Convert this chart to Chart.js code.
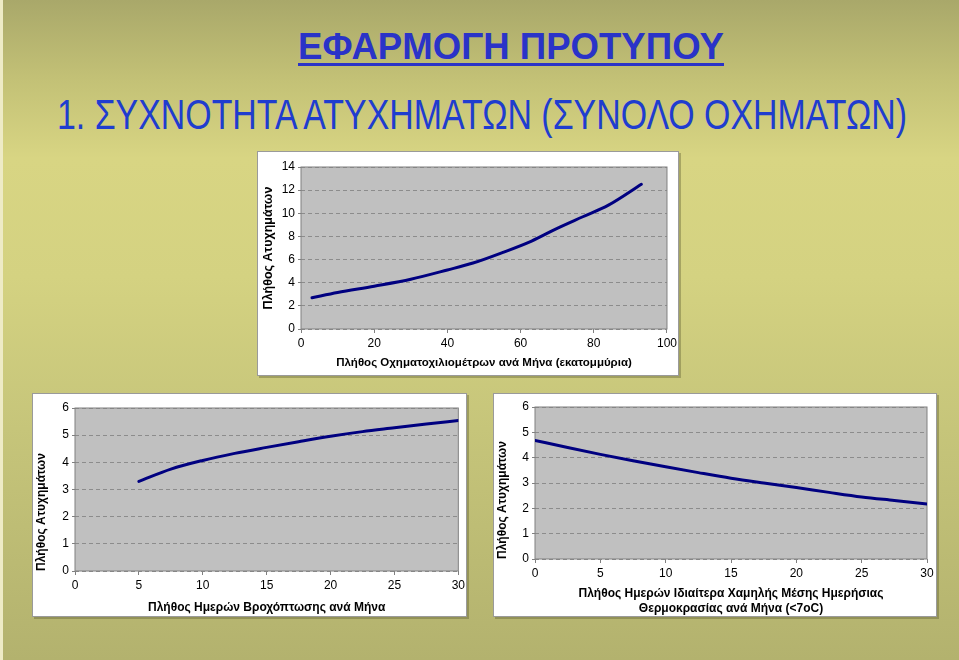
<!DOCTYPE html>
<html lang="el">
<head>
<meta charset="utf-8">
<title>Εφαρμογή Προτύπου</title>
<script src="https://cdn.jsdelivr.net/npm/chart.js@4.4.0/dist/chart.umd.min.js"></script>
<style>
  html, body {
    margin: 0;
    padding: 0;
  }
  body {
    width: 959px;
    height: 660px;
    overflow: hidden;
    position: relative;
    font-family: Arial, "Liberation Sans", sans-serif;
    background: linear-gradient(to bottom, #a9a86a 0%, #c3c176 12%, #d8d583 24%, #d4d281 42%, #c6c57a 65%, #b3b26e 100%);
  }
  .left-strip {
    position: absolute;
    left: 0;
    top: 0;
    width: 3px;
    height: 660px;
    background: #eeebc6;
  }
  .slide-title {
    position: absolute;
    white-space: nowrap;
    transform-origin: left top;
  }
  #mainTitle {
    left: 298px;
    top: 26px;
    font-size: 37px;
    font-weight: bold;
    color: #2a33c8;
    text-decoration: underline;
    text-decoration-thickness: 3px;
    text-underline-offset: 4px;
  }
  #subTitle {
    left: 57px;
    top: 91px;
    font-size: 42px;
    color: #1f3dcf;
  }
  .chart-box {
    position: absolute;
    background: #fff;
    border: 1px solid #9a9a9a;
    box-shadow: 2px 2px 0 rgba(80, 80, 40, 0.35);
    box-sizing: border-box;
  }
  .chart-box canvas {
    position: absolute;
    left: 0;
    top: 0;
  }
  #boxKm { left: 257px; top: 151px; width: 422px; height: 225px; }
  #boxRain { left: 32px; top: 393px; width: 435px; height: 224px; }
  #boxCold { left: 493px; top: 393px; width: 444px; height: 224px; }
</style>
</head>
<body>
<div class="left-strip"></div>
<div class="slide-title" id="mainTitle" data-width="426">ΕΦΑΡΜΟΓΗ ΠΡΟΤΥΠΟΥ</div>
<div class="slide-title" id="subTitle" data-width="850">1. ΣΥΧΝΟΤΗΤΑ ΑΤΥΧΗΜΑΤΩΝ (ΣΥΝΟΛΟ ΟΧΗΜΑΤΩΝ)</div>

<div class="chart-box" id="boxKm"><canvas id="kmChart"></canvas></div>
<div class="chart-box" id="boxRain"><canvas id="rainChart"></canvas></div>
<div class="chart-box" id="boxCold"><canvas id="coldChart"></canvas></div>

<script>
// Vehicle-km per month (millions) vs accidents
const kmValues = [3, 10, 20, 30, 40, 47, 55, 63, 70, 77, 84, 93];
const kmAccidents = [2.7, 3.15, 3.7, 4.3, 5.1, 5.7, 6.6, 7.6, 8.7, 9.7, 10.7, 12.5];
const kmXTicks = [0, 20, 40, 60, 80, 100];
const kmYTicks = [0, 2, 4, 6, 8, 10, 12, 14];

// Rain days per month vs accidents
const rainDays = [5, 7.5, 10, 12.5, 15, 17.5, 20, 22.5, 25, 27.5, 30];
const rainAccidents = [3.3, 3.75, 4.07, 4.33, 4.55, 4.76, 4.96, 5.13, 5.27, 5.41, 5.54];

// Cold days (<7oC) per month vs accidents
const coldDays = [0, 2.5, 5, 7.5, 10, 12.5, 15, 17.5, 20, 22.5, 25, 27.5, 30];
const coldAccidents = [4.68, 4.4, 4.13, 3.88, 3.64, 3.41, 3.19, 3.0, 2.82, 2.63, 2.45, 2.31, 2.17];

const daysXTicks = [0, 5, 10, 15, 20, 25, 30];
const daysYTicks = [0, 1, 2, 3, 4, 5, 6];

const yTitle = 'Πλήθος Ατυχημάτων';

document.addEventListener('DOMContentLoaded', function() {
  fitTitles();

  // Gray plot area with a solid frame, drawn under the curve
  const plotFrame = {
    id: 'plotFrame',
    beforeDraw(chart) {
      const a = chart.chartArea;
      const ctx = chart.ctx;
      ctx.save();
      ctx.fillStyle = '#c0c0c0';
      ctx.fillRect(a.left, a.top, a.right - a.left, a.bottom - a.top);
      ctx.restore();
    },
    beforeDatasetsDraw(chart) {
      const a = chart.chartArea;
      const ctx = chart.ctx;
      ctx.save();
      ctx.strokeStyle = '#808080';
      ctx.lineWidth = 1;
      ctx.strokeRect(a.left, a.top, a.right - a.left, a.bottom - a.top);
      ctx.restore();
    }
  };

  Chart.defaults.font.family = 'Arial, "Liberation Sans", sans-serif';
  Chart.defaults.font.size = 12;
  Chart.defaults.color = '#000';

  makeChart('kmChart', 422, 225, kmValues, kmAccidents, {
    xTicks: kmXTicks,
    yTicks: kmYTicks,
    xTitle: 'Πλήθος Οχηματοχιλιομέτρων ανά Μήνα (εκατομμύρια)',
    xTitleSize: 11.5,
    yTitleSize: 12.5,
    yTitleAlign: 'center',
    yWidth: 43,
    xHeight: 48,
    padding: { top: 15, right: 10, left: 0, bottom: 0 },
    yTitlePad: 3,
    xTitlePad: 7
  });

  makeChart('rainChart', 435, 224, rainDays, rainAccidents, {
    xTicks: daysXTicks,
    yTicks: daysYTicks,
    xTitle: 'Πλήθος Ημερών Βροχόπτωσης ανά Μήνα',
    xTitleSize: 12,
    yTitleSize: 12,
    yTitleAlign: 'start',
    yWidth: 42,
    xHeight: 47,
    padding: { top: 14, right: 8, left: 0, bottom: 0 },
    yTitlePad: 1,
    xTitlePad: 3
  });

  makeChart('coldChart', 444, 224, coldDays, coldAccidents, {
    xTicks: daysXTicks,
    yTicks: daysYTicks,
    xTitle: ['Πλήθος Ημερών Ιδιαίτερα Χαμηλής Μέσης Ημερήσιας', 'Θερμοκρασίας ανά Μήνα (<7oC)'],
    xTitleSize: 12,
    yTitleSize: 12,
    yTitleAlign: 'start',
    yWidth: 41,
    xHeight: 59,
    padding: { top: 13, right: 11, left: 0, bottom: 0 },
    yTitlePad: 1,
    xTitlePad: 2
  });

  function makeChart(canvasId, width, height, xs, ys, opt) {
    const canvas = document.getElementById(canvasId);
    canvas.width = width;
    canvas.height = height;
    canvas.style.width = width + 'px';
    canvas.style.height = height + 'px';

    const points = xs.map((x, i) => ({ x: x, y: ys[i] }));

    return new Chart(canvas, {
      type: 'scatter',
      data: {
        datasets: [{
          data: points,
          showLine: true,
          borderColor: '#000080',
          borderWidth: 3,
          borderCapStyle: 'round',
          pointRadius: 0,
          pointHoverRadius: 0,
          cubicInterpolationMode: 'monotone',
          fill: false
        }]
      },
      options: {
        responsive: false,
        animation: false,
        devicePixelRatio: 1,
        layout: { padding: opt.padding },
        plugins: {
          legend: { display: false },
          tooltip: { enabled: false }
        },
        scales: {
          x: {
            type: 'linear',
            min: opt.xTicks[0],
            max: opt.xTicks[opt.xTicks.length - 1],
            afterBuildTicks: scale => { scale.ticks = opt.xTicks.map(v => ({ value: v })); },
            afterFit: scale => { scale.height = opt.xHeight; },
            grid: {
              color: 'rgba(0,0,0,0)',
              tickColor: '#808080',
              tickLength: 4,
              drawOnChartArea: false
            },
            border: { display: false },
            ticks: { padding: 3, maxRotation: 0, autoSkip: false },
            title: {
              display: true,
              text: opt.xTitle,
              font: { size: opt.xTitleSize, weight: 'bold', lineHeight: 1.25 },
              padding: { top: 0, bottom: opt.xTitlePad }
            }
          },
          y: {
            type: 'linear',
            min: opt.yTicks[0],
            max: opt.yTicks[opt.yTicks.length - 1],
            afterBuildTicks: scale => { scale.ticks = opt.yTicks.map(v => ({ value: v })); },
            afterFit: scale => { scale.width = opt.yWidth; },
            grid: {
              color: '#8c8c8c',
              tickColor: '#808080',
              tickLength: 3
            },
            border: { display: false, dash: [4, 3] },
            ticks: { padding: 3 },
            title: {
              display: true,
              text: yTitle,
              align: opt.yTitleAlign,
              font: { size: opt.yTitleSize, weight: 'bold', lineHeight: 1.2 },
              padding: { top: opt.yTitlePad, bottom: 0 }
            }
          }
        }
      },
      plugins: [plotFrame]
    });
  }

  // Stretch or squeeze the slide titles to the width they have on the slide
  function fitTitles() {
    document.querySelectorAll('.slide-title').forEach(el => {
      const target = parseFloat(el.getAttribute('data-width'));
      const actual = el.getBoundingClientRect().width;
      if (actual > 0) {
        el.style.transform = 'scaleX(' + (target / actual) + ')';
      }
    });
  }
});
</script>
</body>
</html>
